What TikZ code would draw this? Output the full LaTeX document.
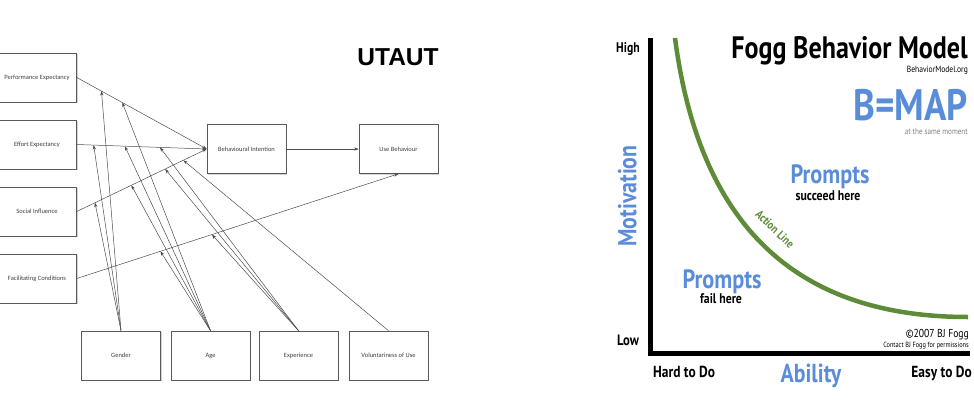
\documentclass[tikz,border=0pt]{standalone}
\usepackage{fontspec}
\setmainfont{Carlito}
\newfontfamily\foggfont[FakeStretch=0.84]{PT Sans}
\newfontfamily\titlefont{Liberation Sans}
\usetikzlibrary{positioning, arrows.meta, calc, shadows}
\definecolor{boxline}{gray}{0.35}
\definecolor{foggblue}{RGB}{90,141,217}
\definecolor{fogggreen}{RGB}{94,139,56}

\begin{document}
\begin{tikzpicture}[x=1pt, y=-1pt, >={Stealth[length=4.5pt,width=3.2pt]},
    box/.style={draw=boxline, line width=0.6pt, fill=white, minimum width=79pt, minimum height=49pt, inner sep=1pt,
        font=\fontsize{6.5}{7.5}\selectfont, text=black!75,
        drop shadow={shadow xshift=1.2pt, shadow yshift=-1.2pt, opacity=0.35}},
    link/.style={->, line width=0.5pt, draw=black!70},
    fogg/.style={font=\foggfont\bfseries\fontsize{#1}{#1}\selectfont, inner sep=0pt, text depth=0pt},
    foggthin/.style={font=\foggfont\fontsize{#1}{#1}\selectfont, inner sep=0pt, text depth=0pt}]
    \useasboundingbox (0,0) rectangle (974,415);

    % UTAUT
    \node[font=\titlefont\bfseries\fontsize{24.5}{25}\selectfont, anchor=base] (utaut) at (398,65) {UTAUT};
    \node[box] (pe) at (37,77.5) {Performance Expectancy};
    \node[box] (ee) at (37,144.5) {Effort Expectancy};
    \node[box] (si) at (37,211.5) {Social Influence};
    \node[box] (fc) at (37,278.5) {Facilitating Conditions};
    \node[box] (bi) at (246.5,149) {Behavioural Intention};
    \node[box] (ub) at (398.5,149) {Use Behaviour};
    \node[box] (gen) at (121,355.5) {Gender};
    \node[box] (age) at (210.5,355.5) {Age};
    \node[box] (exp) at (298.5,355.5) {Experience};
    \node[box] (vol) at (388.5,355.5) {Voluntariness of Use};

    \draw[link] (pe.east) -- (bi.west);
    \draw[link] (ee.east) -- (bi.west);
    \draw[link] (si.east) -- (bi.west);
    \draw[link] (fc.east) -- (ub.south);
    \draw[link] (bi.east) -- (ub.west);

    \draw[link] (gen.north) -- ($(pe.east)!0.19!(bi.west)$);
    \draw[link] (gen.north) -- ($(ee.east)!0.13!(bi.west)$);
    \draw[link] (gen.north) -- ($(si.east)!0.14!(bi.west)$);
    \draw[link] (age.north) -- ($(pe.east)!0.35!(bi.west)$);
    \draw[link] (age.north) -- ($(ee.east)!0.37!(bi.west)$);
    \draw[link] (age.north) -- ($(si.east)!0.42!(bi.west)$);
    \draw[link] (age.north) -- ($(fc.east)!0.26!(ub.south)$);
    \draw[link] (exp.north) -- ($(ee.east)!0.64!(bi.west)$);
    \draw[link] (exp.north) -- ($(si.east)!0.68!(bi.west)$);
    \draw[link] (exp.north) -- ($(fc.east)!0.42!(ub.south)$);
    \draw[link] (vol.north) -- ($(si.east)!0.82!(bi.west)$);

    % Fogg Behavior Model
    \draw[line width=5pt, line join=miter] (650,38) -- (650,353) -- (970,353);
    \draw[fogggreen, line width=4.5pt] (675,38) .. controls (700,230) and (800,317) .. (968,317);

    \node[fogg=31, anchor=base east] (title) at (968,58) {Fogg Behavior Model};
    \node[foggthin=9, anchor=base east] (site) at (968,72) {BehaviorModel.org};
    \node[fogg=44, anchor=base east, text=foggblue] (bmap) at (968,120) {B=MAP};
    \node[foggthin=8.5, anchor=base east, text=black!50] (moment) at (968,134) {at the same moment};
    \node[fogg=26.5, anchor=base, text=foggblue] (succ) at (830,183) {Prompts};
    \node[fogg=14, anchor=base] (succtxt) at (828,200) {succeed here};
    \node[fogg=26.5, anchor=base, text=foggblue] (fail) at (722,288) {Prompts};
    \node[fogg=14, anchor=base] (failtxt) at (721,303) {fail here};
    \node[fogg=12, text=fogggreen, rotate=-44] (action) at (775,229) {Action Line};
    \node[fogg=14] (high) at (628,48) {High};
    \node[fogg=15] (low) at (628,340) {Low};
    \node[fogg=26, text=foggblue, rotate=90] (motiv) at (627,196) {Motivation};
    \node[fogg=16, anchor=west] (hard) at (653,372) {Hard to Do};
    \node[fogg=26, text=foggblue] (ability) at (811,373) {Ability};
    \node[fogg=16, anchor=east] (easy) at (972,372) {Easy to Do};
    \node[foggthin=11.5, anchor=base east] (copy) at (969,337) {©2007 BJ Fogg};
    \node[foggthin=7.5, anchor=base east] (contact) at (969,347) {Contact BJ Fogg for permissions};
\end{tikzpicture}
\end{document}
